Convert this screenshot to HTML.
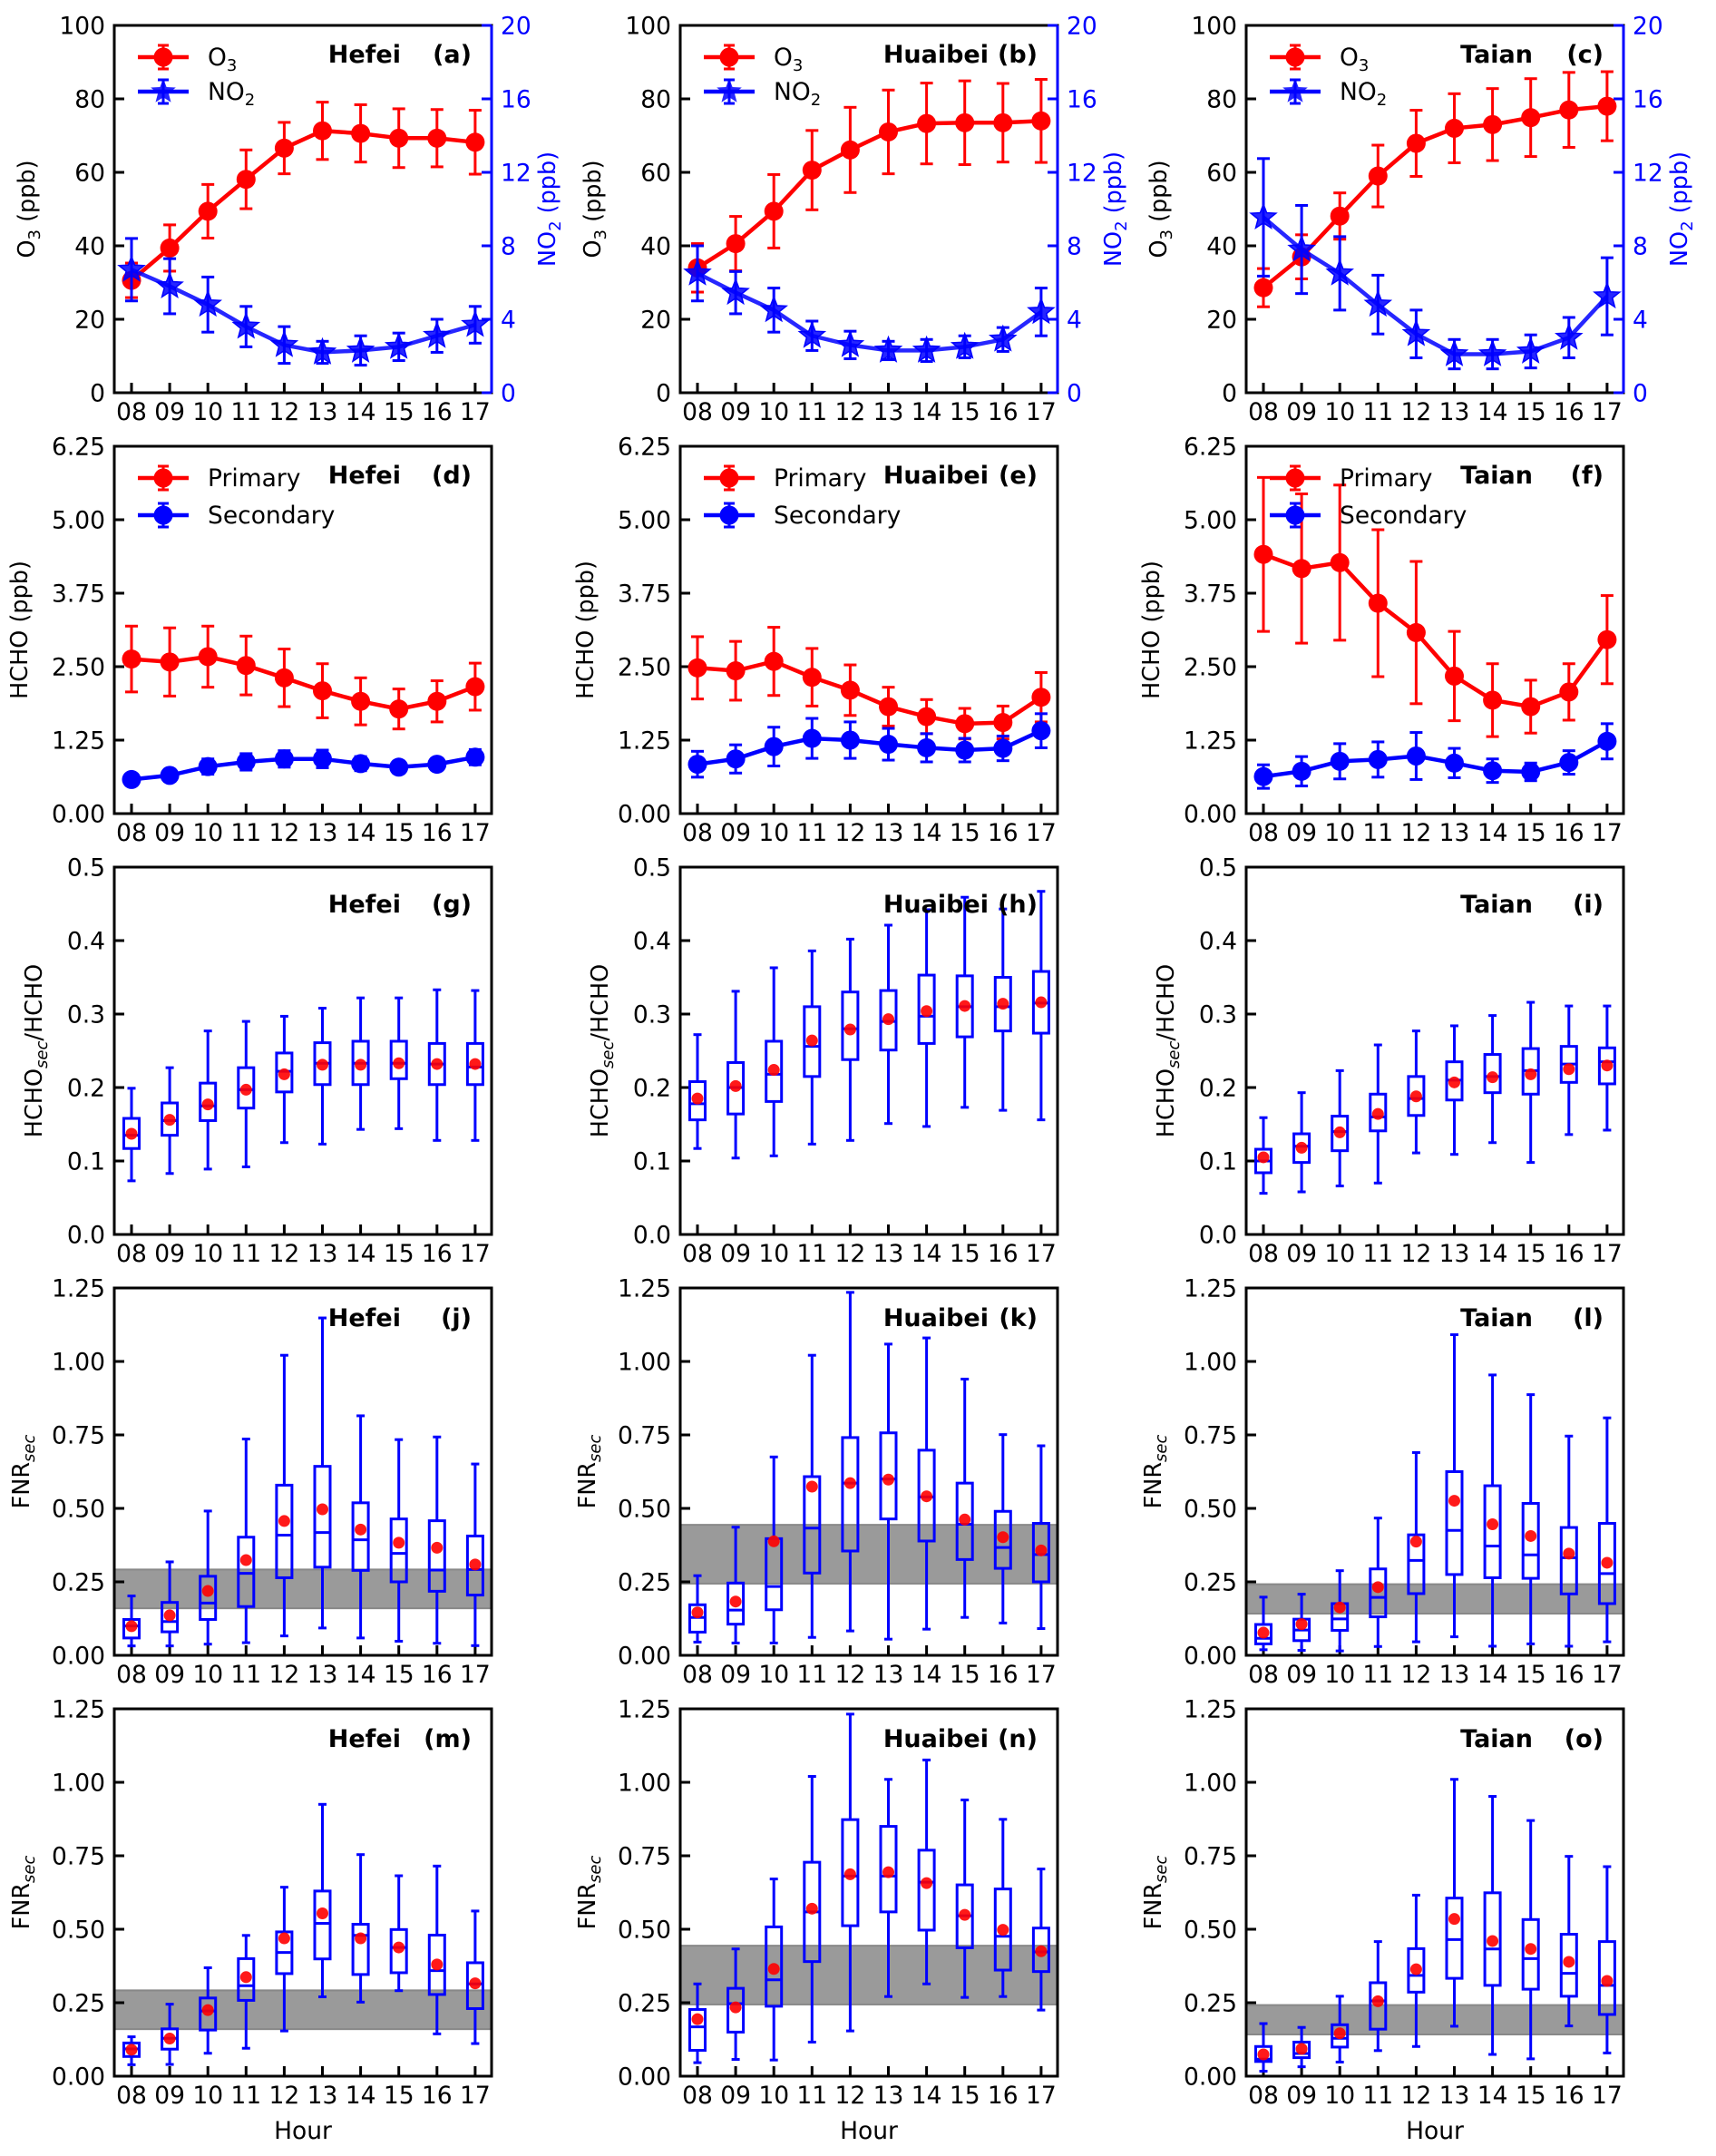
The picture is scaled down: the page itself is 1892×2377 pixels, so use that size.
<!DOCTYPE html>
<html><head><meta charset="utf-8">
<style>
html,body{margin:0;padding:0;background:#fff;}
svg{display:block;font-family:"DejaVu Sans","Liberation Sans",sans-serif;}
</style></head>
<body>
<svg id="chart" xmlns="http://www.w3.org/2000/svg" width="1892" height="2377" viewBox="0 0 1892 2377"></svg>
<script>
// ---------- data ----------
const hours = ['08','09','10','11','12','13','14','15','16','17'];
const o3Ticks = [0,20,40,60,80,100];
const no2Ticks = [0,4,8,12,16,20];
const hchoTicks = [0,1.25,2.5,3.75,5,6.25];
const ratioTicks = [0,0.1,0.2,0.3,0.4,0.5];
const fnrTicks = [0,0.25,0.5,0.75,1,1.25];
const cities = ['Hefei','Huaibei','Taian'];

const hefeiO3 = [30.6,39.4,49.4,58.1,66.6,71.3,70.6,69.3,69.3,68.2];
const hefeiO3Err = [4.7,6.3,7.3,8,7,7.8,7.8,8,7.8,8.7];
const hefeiNO2 = [6.7,5.8,4.8,3.6,2.6,2.2,2.3,2.5,3.1,3.7];
const hefeiNO2Err = [1.7,1.5,1.5,1.1,1.0,0.6,0.8,0.75,0.9,1.0];
const huaibeiO3 = [34,40.6,49.4,60.6,66.1,71,73.3,73.5,73.5,74];
const huaibeiO3Err = [6.6,7.4,10,10.8,11.6,11.4,11,11.4,10.7,11.3];
const huaibeiNO2 = [6.5,5.45,4.5,3.1,2.6,2.3,2.3,2.5,2.9,4.4];
const huaibeiNO2Err = [1.5,1.15,1.2,0.8,0.75,0.5,0.6,0.6,0.65,1.3];
const taianO3 = [28.6,37,48.1,59,67.9,72,73,74.9,77,78];
const taianO3Err = [5.2,6,6.3,8.4,9,9.4,9.8,10.6,10.2,9.4];
const taianNO2 = [9.55,7.8,6.5,4.8,3.2,2.1,2.1,2.25,3.0,5.25];
const taianNO2Err = [3.2,2.4,2,1.6,1.3,0.8,0.8,0.9,1.1,2.1];

const hefeiPrim = [2.63,2.58,2.67,2.52,2.31,2.09,1.91,1.78,1.91,2.16];
const hefeiPrimErr = [0.56,0.58,0.52,0.5,0.49,0.46,0.4,0.34,0.35,0.4];
const hefeiSec = [0.58,0.65,0.80,0.88,0.93,0.93,0.85,0.79,0.84,0.96];
const hefeiSecErr = [0.08,0.1,0.13,0.14,0.14,0.15,0.12,0.1,0.1,0.13];
const huaibeiPrim = [2.48,2.43,2.59,2.32,2.10,1.82,1.65,1.53,1.55,1.98];
const huaibeiPrimErr = [0.53,0.5,0.58,0.49,0.43,0.33,0.29,0.26,0.28,0.42];
const huaibeiSec = [0.84,0.93,1.14,1.28,1.25,1.18,1.12,1.08,1.11,1.41];
const huaibeiSecErr = [0.22,0.24,0.33,0.34,0.31,0.27,0.24,0.2,0.21,0.29];
const taianPrim = [4.41,4.17,4.27,3.58,3.08,2.34,1.93,1.82,2.07,2.96];
const taianPrimErr = [1.31,1.27,1.32,1.25,1.21,0.76,0.62,0.45,0.48,0.75];
const taianSec = [0.63,0.72,0.89,0.92,0.98,0.86,0.73,0.71,0.87,1.23];
const taianSecErr = [0.2,0.25,0.3,0.3,0.4,0.25,0.2,0.15,0.2,0.3];

// ratio HCHOsec/HCHO boxes
const gLo=[.073,.083,.089,.092,.125,.123,.143,.144,.128,.128];
const gQ1=[.117,.135,.155,.172,.194,.204,.204,.212,.204,.204];
const gMed=[.135,.155,.175,.197,.222,.233,.233,.233,.232,.228];
const gQ3=[.158,.179,.206,.227,.247,.261,.263,.263,.260,.260];
const gHi=[.199,.227,.277,.290,.297,.308,.322,.322,.333,.332];
const gMean=[.137,.156,.177,.197,.218,.231,.231,.233,.232,.232];
const hLo=[.117,.104,.107,.123,.128,.151,.147,.173,.169,.156];
const hQ1=[.156,.164,.181,.215,.238,.251,.260,.269,.277,.274];
const hMed=[.178,.200,.218,.256,.280,.290,.297,.310,.310,.315];
const hQ3=[.208,.234,.263,.310,.330,.332,.353,.352,.350,.358];
const hHi=[.272,.331,.363,.386,.402,.421,.442,.459,.443,.467];
const hMean=[.185,.202,.224,.264,.279,.293,.304,.311,.314,.316];
const iLo=[.056,.058,.066,.070,.111,.109,.125,.098,.136,.142];
const iQ1=[.084,.098,.114,.141,.162,.183,.193,.191,.207,.205];
const iMed=[.100,.120,.140,.160,.185,.210,.215,.223,.232,.235];
const iQ3=[.116,.137,.161,.191,.215,.235,.245,.253,.256,.254];
const iHi=[.159,.193,.223,.258,.277,.284,.298,.316,.311,.311];
const iMean=[.105,.118,.139,.164,.188,.207,.214,.218,.225,.230];

// FNRsec boxes row 4
const jLo=[.032,.032,.038,.043,.066,.093,.059,.048,.041,.033];
const jQ1=[.059,.080,.122,.166,.264,.300,.289,.250,.218,.205];
const jMed=[.100,.115,.178,.279,.409,.418,.393,.347,.290,.292];
const jQ3=[.122,.180,.269,.402,.579,.643,.519,.464,.458,.406];
const jHi=[.202,.318,.491,.736,1.021,1.148,.815,.734,.743,.651];
const jMean=[.099,.136,.219,.324,.457,.497,.428,.383,.366,.309];
const kLo=[.045,.042,.042,.061,.083,.055,.089,.129,.110,.091];
const kQ1=[.079,.106,.155,.280,.355,.464,.389,.326,.296,.250];
const kMed=[.129,.154,.234,.433,.586,.600,.539,.446,.367,.343];
const kQ3=[.172,.246,.397,.608,.741,.757,.698,.586,.490,.449];
const kHi=[.271,.436,.675,1.021,1.235,1.059,1.080,.940,.751,.713];
const kMean=[.146,.183,.388,.574,.586,.598,.541,.462,.402,.357];
const lLo=[.019,.017,.015,.030,.046,.063,.031,.039,.031,.046];
const lQ1=[.039,.050,.085,.131,.210,.275,.264,.262,.209,.176];
const lMed=[.058,.086,.124,.197,.323,.425,.372,.342,.332,.278];
const lQ3=[.105,.123,.176,.294,.410,.625,.577,.517,.435,.449];
const lHi=[.198,.208,.288,.467,.690,1.091,.954,.887,.746,.808];
const lMean=[.077,.106,.163,.232,.387,.526,.446,.406,.346,.315];
// FNRsec boxes row 5
const mLo=[.039,.040,.078,.095,.154,.270,.252,.291,.144,.111];
const mQ1=[.067,.092,.157,.258,.349,.399,.346,.352,.278,.230];
const mMed=[.093,.129,.222,.308,.421,.520,.479,.438,.359,.314];
const mQ3=[.113,.161,.266,.400,.491,.630,.517,.499,.480,.386];
const mHi=[.134,.245,.369,.479,.643,.925,.754,.682,.715,.562];
const mMean=[.090,.128,.225,.337,.469,.554,.469,.438,.380,.316];
const nLo=[.046,.057,.055,.116,.154,.271,.314,.268,.271,.225];
const nQ1=[.088,.150,.238,.390,.512,.559,.497,.437,.361,.356];
const nMed=[.168,.247,.328,.559,.681,.681,.660,.546,.476,.423];
const nQ3=[.227,.299,.508,.728,.873,.850,.769,.651,.637,.504];
const nHi=[.314,.433,.671,1.020,1.232,1.010,1.076,.940,.874,.705];
const nMean=[.194,.234,.365,.570,.687,.694,.657,.549,.498,.425];
const oLo=[.017,.032,.048,.087,.101,.170,.074,.059,.171,.079];
const oQ1=[.050,.063,.099,.160,.286,.333,.309,.296,.272,.210];
const oMed=[.058,.077,.129,.256,.343,.465,.433,.400,.350,.309];
const oQ3=[.101,.116,.175,.318,.434,.606,.624,.533,.483,.458];
const oHi=[.179,.166,.272,.458,.616,1.010,.952,.870,.748,.713];
const oMean=[.074,.093,.146,.255,.364,.535,.460,.433,.389,.324];

const hefeiBand=[0.16,0.292];
const huaibeiBand=[0.244,0.444];
const taianBand=[0.142,0.242];

// ---------- drawing ----------
const NS='http://www.w3.org/2000/svg';
const svg=document.getElementById('chart');
const colX=[126,750,1374], rowY=[28,492,956,1420,1884], W=416, H=405;
const RED='#ff0000', BLUE='#0000ff';
const FS=26.5;

function mk(tag, attrs, name, parent){
  const e=document.createElementNS(NS,tag);
  for(const k in attrs) e.setAttribute(k,attrs[k]);
  
  
  (parent||svg).appendChild(e);
  return e;
}
function txt(x,y,s,attrs,name,parent){
  const e=mk('text',Object.assign({x:x,y:y,'font-size':FS,fill:'#000'},attrs||{}),name,parent);
  e.textContent=s;
  return e;
}
function tspan(parent,s,attrs,name){
  const t=mk('tspan',attrs||{},name,parent);
  t.textContent=s;
  return t;
}
function xs(c,i){return colX[c]+19+i*42.1;}
function ys(r,v,max){return rowY[r]+H-v/max*H;}

function frame(c,r,ymax,ticks,fmt,rightBlue){
  const x0=colX[c], y0=rowY[r];
  mk('rect',{x:x0,y:y0,width:W,height:H,fill:'none',stroke:'#000','stroke-width':3},'plot-frame');
  ticks.forEach(t=>{
    const y=ys(r,t,ymax);
    mk('line',{x1:x0,y1:y,x2:x0+11,y2:y,stroke:'#000','stroke-width':3},'y-tick');
    txt(x0-10,y+9.5,fmt(t),{'text-anchor':'end'},'y-tick-label');
  });
  hours.forEach((h,i)=>{
    const x=xs(c,i);
    mk('line',{x1:x,y1:y0+H,x2:x,y2:y0+H-11,stroke:'#000','stroke-width':3},'x-tick');
    txt(x,y0+H+30,h,{'text-anchor':'middle'},'x-tick-label');
  });
  if(rightBlue){
    mk('line',{x1:x0+W,y1:y0,x2:x0+W,y2:y0+H,stroke:BLUE,'stroke-width':3},'right-axis-line');
  }
}
function title(c,r,city,letter,dy){
  const x0=colX[c], y0=rowY[r];
  const endCity = city==='Huaibei' ? x0+W-76 : x0+W-100;
  txt(endCity,y0+dy+9,city,{'text-anchor':'end','font-weight':'bold','font-size':27},'panel-title-city');
  txt(x0+W-22,y0+dy+9,'('+letter+')',{'text-anchor':'end','font-weight':'bold','font-size':27},'panel-letter');
}
function ylabel(cx,cy,parts,name,color){
  const t=mk('text',{x:0,y:0,'font-size':25.5,fill:color||'#000','text-anchor':'middle',transform:'translate('+cx+','+cy+') rotate(-90)'},name);
  parts.forEach(p=>{
    const a={};
    if(p.sub){a['font-size']=18;a.dy=6;}
    if(p.up){a.dy=-6;}
    if(p.it){a['font-style']='italic';}
    tspan(t,p.s,a,'label-part');
  });
  return t;
}
function starPath(cx,cy,R,r){
  let d='';
  for(let k=0;k<10;k++){
    const ang=-Math.PI/2+k*Math.PI/5, rad=k%2?r:R;
    d+=(k?'L':'M')+(cx+rad*Math.cos(ang)).toFixed(1)+','+(cy+rad*Math.sin(ang)).toFixed(1);
  }
  return d+'Z';
}
function errSeries(c,r,vals,errs,max,color,marker,name){
  const pts=vals.map((v,i)=>xs(c,i).toFixed(1)+','+ys(r,v,max).toFixed(1)).join(' ');
  mk('polyline',{points:pts,fill:'none',stroke:color,'stroke-width':4.5,'stroke-opacity':marker==='star'?0.85:1},name+'-line');
  vals.forEach((v,i)=>{
    const x=xs(c,i), yt=ys(r,v+errs[i],max), yb=ys(r,Math.max(0,v-errs[i]),max);
    mk('line',{x1:x,y1:yt,x2:x,y2:yb,stroke:color,'stroke-width':3},name+'-errorbar');
    mk('line',{x1:x-7,y1:yt,x2:x+7,y2:yt,stroke:color,'stroke-width':3},name+'-errorcap');
    mk('line',{x1:x-7,y1:yb,x2:x+7,y2:yb,stroke:color,'stroke-width':3},name+'-errorcap');
  });
  vals.forEach((v,i)=>{
    const x=xs(c,i), y=ys(r,v,max);
    if(marker==='star') mk('path',{d:starPath(x,y,14.5,6.2),fill:color,stroke:color,'stroke-width':1.5,'fill-opacity':0.85},name+'-marker');
    else mk('circle',{cx:x,cy:y,r:10.5,fill:color},name+'-marker');
  });
}
function legendEntry(c,r,dy,color,marker,label,name){
  const x0=colX[c]+26, y=rowY[r]+dy, xm=colX[c]+54;
  mk('line',{x1:x0,y1:y,x2:x0+56,y2:y,stroke:color,'stroke-width':4.5},name+'-handle-line');
  mk('line',{x1:xm,y1:y-13,x2:xm,y2:y+13,stroke:color,'stroke-width':3},name+'-handle-err');
  mk('line',{x1:xm-6,y1:y-13,x2:xm+6,y2:y-13,stroke:color,'stroke-width':3},name+'-handle-cap');
  mk('line',{x1:xm-6,y1:y+13,x2:xm+6,y2:y+13,stroke:color,'stroke-width':3},name+'-handle-cap');
  if(marker==='star') mk('path',{d:starPath(xm,y,14.5,6.2),fill:color,'fill-opacity':0.85},name+'-handle-marker');
  else mk('circle',{cx:xm,cy:y,r:10.5,fill:color},name+'-handle-marker');
  const t=txt(colX[c]+103,y+9,'',{'font-size':26.5},name+'-label');
  label.forEach(p=>{tspan(t,p.s,p.sub?{'font-size':18,dy:6}:{},'legend-text-part');});
}
function boxes(c,r,max,lo,q1,med,q3,hi,mean,name){
  hours.forEach((h,i)=>{
    const x=xs(c,i), bw=17, cw=9;
    const yl=ys(r,lo[i],max), y1=ys(r,q1[i],max), ym=ys(r,med[i],max), y3=ys(r,q3[i],max), yh=ys(r,hi[i],max);
    mk('line',{x1:x,y1:yh,x2:x,y2:y3,stroke:BLUE,'stroke-width':3},name+'-whisker-high');
    mk('line',{x1:x,y1:y1,x2:x,y2:yl,stroke:BLUE,'stroke-width':3},name+'-whisker-low');
    mk('line',{x1:x-cw/2,y1:yh,x2:x+cw/2,y2:yh,stroke:BLUE,'stroke-width':3},name+'-cap-high');
    mk('line',{x1:x-cw/2,y1:yl,x2:x+cw/2,y2:yl,stroke:BLUE,'stroke-width':3},name+'-cap-low');
    mk('rect',{x:x-bw/2,y:y3,width:bw,height:Math.max(0,y1-y3),fill:'none',stroke:BLUE,'stroke-width':3},name+'-box');
    mk('line',{x1:x-bw/2,y1:ym,x2:x+bw/2,y2:ym,stroke:BLUE,'stroke-width':3},name+'-median');
    mk('circle',{cx:x,cy:ys(r,mean[i],max),r:6.5,fill:RED,'fill-opacity':0.9},name+'-mean');
  });
}
function band(c,r,b,max){
  const yt=ys(r,b[1],max), yb=ys(r,b[0],max);
  mk('rect',{x:colX[c],y:yt,width:W,height:yb-yt,fill:'#9a9a9a',stroke:'#888','stroke-width':2},'threshold-band');
}

const f0=v=>String(v), f2=v=>v.toFixed(2), f1=v=>v.toFixed(1);

// Row 1: O3 / NO2
const o3Sets=[[hefeiO3,hefeiO3Err,hefeiNO2,hefeiNO2Err],[huaibeiO3,huaibeiO3Err,huaibeiNO2,huaibeiNO2Err],[taianO3,taianO3Err,taianNO2,taianNO2Err]];
const letters1=['a','b','c'];
for(let c=0;c<3;c++){
  frame(c,0,100,o3Ticks,f0,true);
  no2Ticks.forEach(t=>{
    const y=ys(0,t,20), x=colX[c]+W;
    mk('line',{x1:x,y1:y,x2:x-11,y2:y,stroke:BLUE,'stroke-width':3},'right-y-tick');
    txt(x+10,y+9.5,String(t),{fill:BLUE},'right-y-tick-label');
  });
  errSeries(c,0,o3Sets[c][0],o3Sets[c][1],100,RED,'circle','o3');
  errSeries(c,0,o3Sets[c][2],o3Sets[c][3],20,BLUE,'star','no2');
  legendEntry(c,0,35,RED,'circle',[{s:'O'},{s:'3',sub:true}],'legend-o3');
  legendEntry(c,0,73,BLUE,'star',[{s:'NO'},{s:'2',sub:true}],'legend-no2');
  title(c,0,cities[c],letters1[c],32);
  ylabel(colX[c]-88,rowY[0]+H/2,[{s:'O'},{s:'3',sub:true},{s:' (ppb)',up:true}],'y-axis-title-o3');
  ylabel(colX[c]+W+70,rowY[0]+H/2,[{s:'NO'},{s:'2',sub:true},{s:' (ppb)',up:true}],'y-axis-title-no2',BLUE);
}
// Row 2: HCHO
const hSets=[[hefeiPrim,hefeiPrimErr,hefeiSec,hefeiSecErr],[huaibeiPrim,huaibeiPrimErr,huaibeiSec,huaibeiSecErr],[taianPrim,taianPrimErr,taianSec,taianSecErr]];
const letters2=['d','e','f'];
for(let c=0;c<3;c++){
  frame(c,1,6.25,hchoTicks,f2,false);
  errSeries(c,1,hSets[c][0],hSets[c][1],6.25,RED,'circle','primary');
  errSeries(c,1,hSets[c][2],hSets[c][3],6.25,BLUE,'circle','secondary');
  legendEntry(c,1,35,RED,'circle',[{s:'Primary'}],'legend-primary');
  legendEntry(c,1,76,BLUE,'circle',[{s:'Secondary'}],'legend-secondary');
  title(c,1,cities[c],letters2[c],32);
  ylabel(colX[c]-96,rowY[1]+H/2,[{s:'HCHO (ppb)'}],'y-axis-title-hcho');
}
// Row 3: ratio
const rSets=[[gLo,gQ1,gMed,gQ3,gHi,gMean],[hLo,hQ1,hMed,hQ3,hHi,hMean],[iLo,iQ1,iMed,iQ3,iHi,iMean]];
const letters3=['g','h','i'];
for(let c=0;c<3;c++){
  frame(c,2,0.5,ratioTicks,f1,false);
  const s=rSets[c];
  boxes(c,2,0.5,s[0],s[1],s[2],s[3],s[4],s[5],'ratio');
  title(c,2,cities[c],letters3[c],41);
  ylabel(colX[c]-80,rowY[2]+H/2,[{s:'HCHO'},{s:'sec',sub:true,it:true},{s:'/HCHO',up:true}],'y-axis-title-ratio');
}
// Rows 4-5: FNR
const bands=[hefeiBand,huaibeiBand,taianBand];
const fSets4=[[jLo,jQ1,jMed,jQ3,jHi,jMean],[kLo,kQ1,kMed,kQ3,kHi,kMean],[lLo,lQ1,lMed,lQ3,lHi,lMean]];
const fSets5=[[mLo,mQ1,mMed,mQ3,mHi,mMean],[nLo,nQ1,nMed,nQ3,nHi,nMean],[oLo,oQ1,oMed,oQ3,oHi,oMean]];
const letters4=['j','k','l'], letters5=['m','n','o'];
[[3,fSets4,letters4],[4,fSets5,letters5]].forEach(([r,sets,lets])=>{
  for(let c=0;c<3;c++){
    band(c,r,bands[c],1.25);
    frame(c,r,1.25,fnrTicks,f2,false);
    const s=sets[c];
    boxes(c,r,1.25,s[0],s[1],s[2],s[3],s[4],s[5],'fnr');
    title(c,r,cities[c],lets[c],33);
    ylabel(colX[c]-94,rowY[r]+H/2,[{s:'FNR'},{s:'sec',sub:true,it:true}],'y-axis-title-fnr');
  }
});
for(let c=0;c<3;c++){
  txt(colX[c]+W/2,2358,'Hour',{'text-anchor':'middle','font-size':26.5},'x-axis-title');
}
</script>
</body></html>
